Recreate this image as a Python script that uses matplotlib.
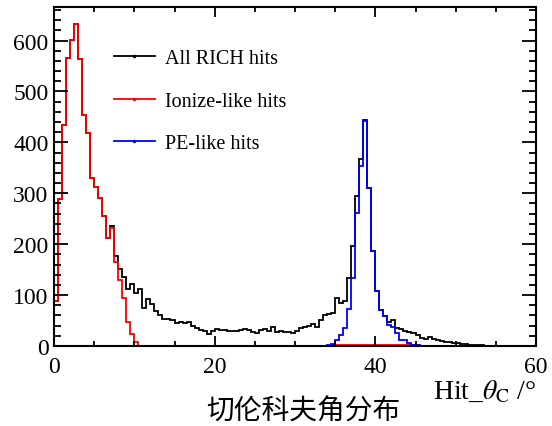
import numpy as np
import matplotlib
matplotlib.use("Agg")
import matplotlib.pyplot as plt
from matplotlib.lines import Line2D
from matplotlib.ticker import MultipleLocator

plt.rcParams['font.family'] = ['Liberation Serif', 'DejaVu Serif']
plt.rcParams['mathtext.fontset'] = 'stix'

# histogram: 120 bins of 0.5 deg from 0 to 60
edges = np.linspace(0, 60, 121)

all_hits = [88, 289, 435, 565, 601, 632, 563, 454, 418, 330, 313, 291, 256, 212,
            236, 176, 152, 136, 112, 122, 105, 112, 75, 92, 82, 68, 60, 54, 53, 52,
            46, 47, 46, 47, 40, 36, 32, 29, 24, 29, 33, 31, 31, 30, 29, 30, 32, 34,
            31, 27, 26, 31, 34, 29, 37, 27, 29, 28, 27, 25, 30, 36, 38, 39, 44, 38,
            52, 60, 63, 65, 95, 84, 88, 134, 196, 295, 368, 444, 311, 187, 108, 71,
            58, 48, 51, 36, 33, 30, 28, 26, 22, 16, 14, 18, 13, 11, 10, 8, 8, 6,
            6, 4, 4, 2, 2, 2, 1, 0, 0, 0, 0, 0, 0, 0, 0, 0, 0, 0, 0, 0]

ionize_hits = [88, 289, 435, 565, 601, 632, 563, 454, 418, 330, 313, 291, 256, 212,
               232, 165, 129, 94, 48, 24, 7, 0, 0, 0, 0, 0, 0, 0, 0, 0,
               0, 0, 0, 0, 0, 0, 0, 0, 0, 0, 0, 0, 0, 0, 0, 0, 0, 0,
               0, 0, 0, 0, 0, 0, 0, 0, 0, 0, 0, 0, 0, 0, 0, 0, 0, 0,
               0, 0, 0, 1, 1, 1, 1, 1, 1, 1, 1, 1, 1, 1, 1, 1,
               1, 1, 1, 1, 1, 1, 1, 1, 1, 0, 0, 0, 0, 0, 0, 0, 0, 0,
               0, 0, 0, 0, 0, 0, 0, 0, 0, 0, 0, 0, 0, 0, 0, 0, 0, 0, 0, 0]

pe_hits = [0, 0, 0, 0, 0, 0, 0, 0, 0, 0, 0, 0, 0, 0, 0, 0, 0, 0, 0, 0,
           0, 0, 0, 0, 0, 0, 0, 0, 0, 0, 0, 0, 0, 0, 0, 0, 0, 0, 0, 0,
           0, 0, 0, 0, 0, 0, 0, 0, 0, 0, 0, 0, 0, 0, 0, 0, 0, 0, 0, 0,
           0, 0, 0, 0, 0, 0, 0, 0, 1, 4, 12, 22, 35, 72, 134, 262, 353, 443, 311, 187,
           108, 70, 58, 42, 38, 26, 12, 11, 5, 2, 1, 0, 0, 0, 0, 0, 0, 0, 0, 0,
           0, 0, 0, 0, 0, 0, 0, 0, 0, 0, 0, 0, 0, 0, 0, 0, 0, 0, 0, 0]

labels = ["All RICH hits", "Ionize-like hits", "PE-like hits"]
colors = ["black", "#ff0000", "#0000ff"]

fig = plt.figure(figsize=(5.52, 4.27), dpi=100)
ax = fig.add_axes([54/552, 1-347/427, 482/552, 339/427])

lw = 1.3
ax.stairs(all_hits, edges, color=colors[0], lw=lw)
ax.stairs(ionize_hits, edges, color=colors[1], lw=lw)
ax.stairs(pe_hits, edges, color=colors[2], lw=lw)

ax.set_xlim(0, 60)
ax.set_ylim(0, 666)

ax.xaxis.set_major_locator(MultipleLocator(20))
ax.xaxis.set_minor_locator(MultipleLocator(5))
ax.yaxis.set_major_locator(MultipleLocator(100))
ax.yaxis.set_minor_locator(MultipleLocator(20))
ax.tick_params(which='both', direction='in', top=True, right=True, width=1.3,
               labelsize=17)
ax.tick_params(axis='x', which='major', length=7.5, pad=7)
ax.tick_params(axis='x', which='minor', length=3.8)
ax.tick_params(axis='y', which='major', length=10, pad=4)
ax.tick_params(axis='y', which='minor', length=5)
for s in ax.spines.values():
    s.set_linewidth(1.5)

handles = [Line2D([], [], color=c, lw=lw, marker='.', markersize=3) for c in colors]
ax.legend(handles, labels, loc='upper left', bbox_to_anchor=(0.107, 0.90),
          borderaxespad=0, frameon=False, fontsize=14.5, handlelength=2.05,
          handletextpad=0.5, labelspacing=1.17)

fig.text(536/552, 1-392/427, r'Hit_$\theta_{\rm C}$ /°', ha='right', va='center',
         fontsize=20)
fig.text(303/552, 1-412/427, '切伦科夫角分布', ha='center', va='center',
         fontsize=20, family=['Noto Sans CJK SC', 'DejaVu Sans'])

fig.savefig("out.png", dpi=100)
